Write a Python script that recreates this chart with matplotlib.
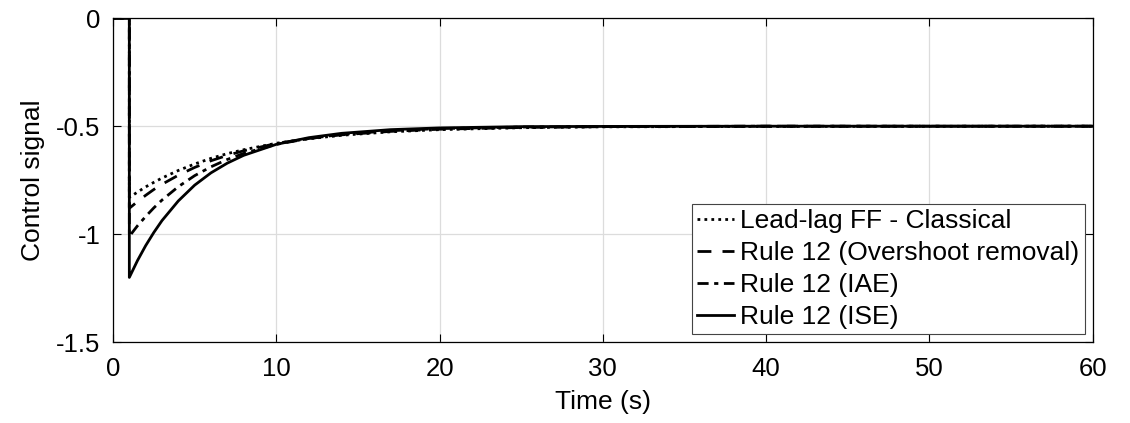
import numpy as np
import matplotlib
matplotlib.use("Agg")
import matplotlib.pyplot as plt

# time samples (step at t = 1 s)
t = [0, 1, 1, 1.5, 2, 2.5, 3, 4, 5, 6, 7, 8, 10, 12, 14, 17, 20, 25, 30, 40, 60]

u_classical = [0, 0, -0.83, -0.805, -0.781, -0.760, -0.740, -0.705, -0.675, -0.649, -0.627,
               -0.609, -0.579, -0.558, -0.542, -0.526, -0.516, -0.507, -0.503, -0.501, -0.500]
u_overshoot = [0, 0, -0.88, -0.849, -0.820, -0.793, -0.769, -0.727, -0.691, -0.660, -0.635,
               -0.614, -0.580, -0.557, -0.540, -0.524, -0.514, -0.506, -0.502, -0.500, -0.500]
u_iae = [0, 0, -1.01, -0.961, -0.918, -0.878, -0.842, -0.780, -0.729, -0.688, -0.654,
         -0.626, -0.584, -0.557, -0.538, -0.521, -0.511, -0.504, -0.502, -0.500, -0.500]
u_ise = [0, 0, -1.20, -1.122, -1.053, -0.992, -0.937, -0.846, -0.773, -0.716, -0.671,
         -0.635, -0.584, -0.553, -0.533, -0.516, -0.508, -0.502, -0.501, -0.500, -0.500]

labels = ["Lead-lag FF - Classical", "Rule 12 (Overshoot removal)",
          "Rule 12 (IAE)", "Rule 12 (ISE)"]

plt.rcParams['font.family'] = ['Liberation Sans', 'DejaVu Sans']

fig = plt.figure(figsize=(11.3, 4.23), dpi=100)
ax = fig.add_axes([0.1, 0.191, 0.867, 0.766])

lw = 2.0
ax.plot(t, u_classical, color='black', lw=lw, linestyle=(0, (1, 1.5)), label=labels[0])
ax.plot(t, u_overshoot, color='black', lw=lw, linestyle=(0, (5, 4)), label=labels[1])
ax.plot(t, u_iae, color='black', lw=lw, linestyle=(0, (4, 2, 1.5, 2)), label=labels[2])
ax.plot(t, u_ise, color='black', lw=lw, linestyle='-', label=labels[3])

ax.set_xlim(0, 60)
ax.set_ylim(-1.5, 0)
ax.set_xticks(np.arange(0, 61, 10))
ax.set_yticks([-1.5, -1, -0.5, 0])
ax.set_yticklabels(["-1.5", "-1", "-0.5", "0"])
ax.grid(True, color='#dcdcdc', linewidth=0.9)
ax.set_axisbelow(True)
ax.tick_params(direction='in', top=True, right=True, labelsize=18.5, length=6, width=0.8)
ax.tick_params(axis='x', pad=11)
ax.tick_params(axis='y', pad=9)
for s in ax.spines.values():
    s.set_linewidth(0.9)

ax.set_xlabel("Time (s)", fontsize=19, labelpad=6)
ax.set_ylabel("Control signal", fontsize=19, labelpad=8)

leg = ax.legend(loc='lower right', fontsize=19, handlelength=1.4, handletextpad=0.25,
                borderpad=0.2, labelspacing=0.3, borderaxespad=0.3,
                fancybox=False, framealpha=1, edgecolor='#444444')
leg.get_frame().set_linewidth(0.8)

fig.savefig("out.png", dpi=100)
